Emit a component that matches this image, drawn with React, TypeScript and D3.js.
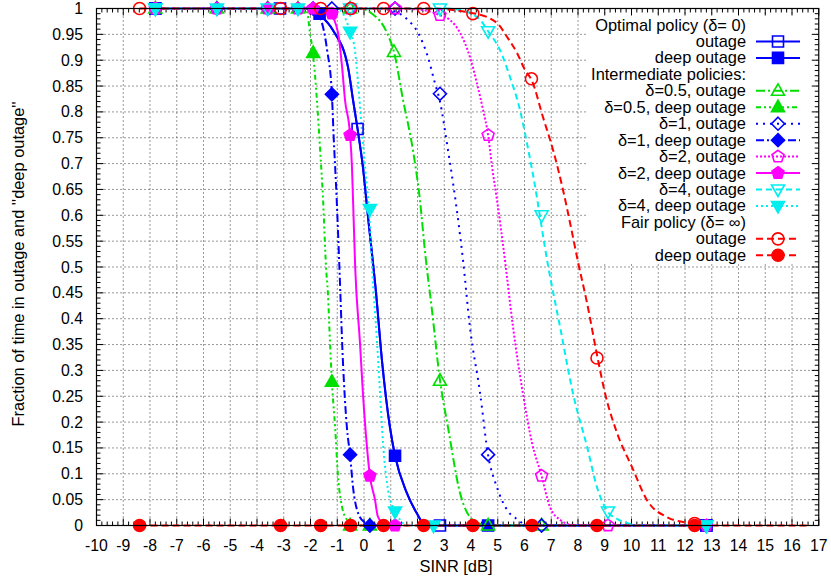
import React from "react";
import * as d3 from "d3";

// ---------- data ----------
const xTickLabels = ["-10","-9","-8","-7","-6","-5","-4","-3","-2","-1","0","1","2","3","4","5","6","7","8","9","10","11","12","13","14","15","16","17"];
const yTickLabels = ["0","0.05","0.1","0.15","0.2","0.25","0.3","0.35","0.4","0.45","0.5","0.55","0.6","0.65","0.7","0.75","0.8","0.85","0.9","0.95","1"];

// curve samples [SINR dB, fraction]
const optLine = [[-7.8,1],[-2.2,1],[-1.9,0.997],[-1.64,0.987],[-1.16,0.958],[-0.6,0.887],[-0.41,0.823],[-0.24,0.767],[-0.04,0.693],[0.15,0.597],[0.45,0.45],[0.67,0.32],[0.97,0.19],[1.16,0.135],[1.6,0.063],[1.97,0.024],[2.2,0.006],[2.84,0],[12.8,0]];
const d05OutLine = [[-5.5,1],[-0.2,1],[0.3,0.99],[0.86,0.953],[1.12,0.916],[1.46,0.823],[1.83,0.726],[2.09,0.63],[2.28,0.53],[2.54,0.417],[2.84,0.281],[3.14,0.19],[3.59,0.063],[4.07,0.011],[4.64,0],[6.64,0]];
const d05DeepLine = [[-7.8,1],[-2.4,1],[-2.13,0.993],[-2.02,0.953],[-1.91,0.914],[-1.76,0.823],[-1.64,0.726],[-1.53,0.63],[-1.42,0.5],[-1.35,0.45],[-1.27,0.353],[-1.2,0.278],[-1.08,0.19],[-0.97,0.094],[-0.82,0.036],[-0.64,0.011],[-0.52,0],[0.22,0]];
const d1OutLine = [[-3.6,1],[0.5,1],[0.97,0.997],[1.64,0.978],[2.02,0.953],[2.39,0.906],[2.65,0.856],[2.84,0.82],[3.14,0.726],[3.33,0.662],[3.7,0.514],[3.96,0.384],[4.34,0.256],[4.64,0.136],[4.97,0.074],[5.35,0.03],[5.76,0.011],[6.1,0],[6.64,0]];
const d1DeepLine = [[-5.5,1],[-2.2,1],[-1.71,0.987],[-1.38,0.92],[-1.2,0.834],[-1.14,0.759],[-1.02,0.63],[-0.92,0.5],[-0.79,0.32],[-0.64,0.19],[-0.52,0.136],[-0.41,0.074],[-0.22,0.024],[0.04,0.005],[0.22,0]];
const d2OutLine = [[-5.5,1],[1.16,1],[2.2,0.997],[2.84,0.987],[3.21,0.978],[3.59,0.953],[3.96,0.906],[4.22,0.856],[4.45,0.804],[4.64,0.755],[4.79,0.693],[4.97,0.63],[5.14,0.566],[5.3,0.5],[5.57,0.384],[5.94,0.256],[6.28,0.16],[6.64,0.096],[6.95,0.036],[7.33,0.011],[7.81,0.001],[9.12,0],[12.8,0]];
const d2DeepLine = [[-7.8,1],[-1.6,1],[-1.27,0.991],[-0.97,0.953],[-0.82,0.887],[-0.71,0.823],[-0.52,0.755],[-0.45,0.693],[-0.41,0.63],[-0.33,0.5],[-0.15,0.353],[-0.04,0.256],[0.11,0.152],[0.22,0.096],[0.41,0.05],[0.52,0.017],[0.79,0.001],[1.16,0]];
const d4OutLine = [[-7.8,1],[3.0,1],[3.59,0.997],[4.34,0.978],[4.64,0.956],[5.08,0.92],[5.46,0.867],[5.83,0.804],[6.09,0.74],[6.33,0.675],[6.89,0.5],[7.33,0.384],[7.81,0.256],[8.34,0.152],[8.71,0.074],[9.12,0.026],[9.46,0.013],[9.83,0.005],[10.3,0],[12.8,0]];
const d4DeepLine = [[-7.8,1],[-1.1,1],[-0.9,0.997],[-0.52,0.955],[-0.34,0.92],[-0.22,0.856],[-0.07,0.759],[0.04,0.693],[0.2,0.6],[0.3,0.5],[0.49,0.353],[0.6,0.256],[0.71,0.16],[0.9,0.069],[1.16,0.027],[1.35,0.011],[1.61,0],[12.8,0]];
const fairOutLine = [[-8.39,1],[2.24,1],[4.07,0.991],[4.97,0.972],[5.35,0.945],[5.72,0.914],[6.02,0.881],[6.28,0.86],[6.69,0.79],[7.07,0.726],[7.44,0.649],[7.78,0.566],[8.0,0.51],[8.34,0.43],[8.71,0.33],[9.01,0.256],[9.46,0.179],[10.02,0.113],[10.58,0.049],[11.33,0.016],[12.07,0.005],[12.45,0]];
const fairDeepLine = [[-8.39,0],[16.6,0]];

// marker points
const optOutPts = [[-7.8,1],[-3.14,1],[-0.24,0.767],[2.84,0],[12.8,0]];
const optDeepPts = [[-7.8,1],[-1.66,0.99],[1.16,0.135],[4.64,0],[12.8,0]];
const d05OutPts = [[-5.5,1],[-2.47,1],[-0.52,1],[1.12,0.916],[2.84,0.28],[4.64,0],[6.64,0]];
const d05DeepPts = [[-7.8,1],[-3.6,1],[-1.9,0.914],[-1.2,0.278],[-0.52,0],[0.22,0]];
const d1OutPts = [[-3.6,1],[-1.2,1],[1.16,1],[2.84,0.835],[4.64,0.137],[6.64,0]];
const d1DeepPts = [[-5.5,1],[-1.9,1],[-1.2,0.834],[-0.52,0.137],[0.22,0]];
const d2OutPts = [[-5.5,1],[-2.47,1],[-0.52,1],[1.16,1],[2.84,0.987],[4.64,0.755],[6.64,0.096],[9.12,0],[12.8,0]];
const d2DeepPts = [[-7.8,1],[-3.6,1],[-1.9,1],[-1.2,0.99],[-0.52,0.755],[0.22,0.096],[1.16,0]];
const d4OutPts = [[-7.8,1],[-3.6,1],[-0.52,1],[2.84,1],[4.64,0.956],[6.64,0.6],[9.12,0.027],[12.8,0]];
const d4DeepPts = [[-7.8,1],[-5.5,1],[-2.47,1],[-0.52,0.955],[0.22,0.612],[1.16,0.027],[2.6,0],[12.8,0]];
const fairOutPts = [[-8.39,1],[-3.12,1],[-1.62,1],[-0.49,1],[0.73,1],[2.23,1],[4.07,0.99],[6.26,0.864],[8.71,0.324],[12.36,0.004]];
const fairDeepPts = [[-8.39,0],[-3.12,0],[-1.62,0],[-0.5,0],[0.73,0],[2.23,0],[4.07,0],[6.28,0],[8.71,0],[12.36,0]];

type Series = { label: string; line: number[][]; pts: number[][]; color: string; dash: string; marker: string; filled: boolean };

const series: Series[] = [
  { label: "outage", line: optLine, pts: optOutPts, color: "#0000ff", dash: "", marker: "square", filled: false },
  { label: "deep outage", line: optLine, pts: optDeepPts, color: "#0000ff", dash: "", marker: "square", filled: true },
  { label: "δ=0.5, outage", line: d05OutLine, pts: d05OutPts, color: "#00e000", dash: "9,3,2,3", marker: "triUp", filled: false },
  { label: "δ=0.5, deep outage", line: d05DeepLine, pts: d05DeepPts, color: "#00e000", dash: "5,3,2,3,2,3", marker: "triUp", filled: true },
  { label: "δ=1, outage", line: d1OutLine, pts: d1OutPts, color: "#0000ff", dash: "2,5", marker: "diamond", filled: false },
  { label: "δ=1, deep outage", line: d1DeepLine, pts: d1DeepPts, color: "#0000ff", dash: "8,3,2,3", marker: "diamond", filled: true },
  { label: "δ=2, outage", line: d2OutLine, pts: d2OutPts, color: "#ff00ff", dash: "2,2", marker: "pentagon", filled: false },
  { label: "δ=2, deep outage", line: d2DeepLine, pts: d2DeepPts, color: "#ff00ff", dash: "", marker: "pentagon", filled: true },
  { label: "δ=4, outage", line: d4OutLine, pts: d4OutPts, color: "#00eeee", dash: "6,4", marker: "triDown", filled: false },
  { label: "δ=4, deep outage", line: d4DeepLine, pts: d4DeepPts, color: "#00eeee", dash: "2,3", marker: "triDown", filled: true },
  { label: "outage", line: fairOutLine, pts: fairOutPts, color: "#ff0000", dash: "7,4", marker: "circle", filled: false },
  { label: "deep outage", line: fairDeepLine, pts: fairDeepPts, color: "#ff0000", dash: "7,4", marker: "circle", filled: true },
];

// legend rows: strings are heading text only, numbers index into series
const legendRows: (string | number)[] = ["Optimal policy (δ= 0)", 0, 1, "Intermediate policies:", 2, 3, 4, 5, 6, 7, 8, 9, "Fair policy (δ= ∞)", 10, 11];

// ---------- layout ----------
const W = 831, H = 581;
const x = d3.scaleLinear().domain([-10, 17]).range([96.5, 818.75]);
const y = d3.scaleLinear().domain([0, 1]).range([525.5, 8.5]);
const FONT = "'Liberation Sans', Arial, Helvetica, sans-serif";
const FS_TICK = 15.8;
const FS_TEXT = 16.4;

function markerPath(kind: string): string {
  switch (kind) {
    case "square": return "M-5.5,-5.5h11v11h-11z";
    case "circle": return "M-6,0a6,6 0 1,0 12,0a6,6 0 1,0 -12,0z";
    case "triUp": return "M0,-7L6.5,4.5L-6.5,4.5z";
    case "triDown": return "M0,7L6.5,-4.5L-6.5,-4.5z";
    case "diamond": return "M0,-6.5L6.5,0L0,6.5L-6.5,0z";
    case "pentagon": {
      const p = d3.range(5).map(k => {
        const a = -Math.PI / 2 + (k * 2 * Math.PI) / 5;
        return [6.3 * Math.cos(a), 6.3 * Math.sin(a)];
      });
      return "M" + p.map(q => q[0].toFixed(2) + "," + q[1].toFixed(2)).join("L") + "z";
    }
  }
  return "";
}

function Marker({ s, cx, cy }: { s: Series; cx: number; cy: number }) {
  return (
    <path
      d={markerPath(s.marker)}
      transform={`translate(${cx},${cy})`}
      fill={s.filled ? s.color : "none"}
      stroke={s.color}
      strokeWidth={1.6}
    />
  );
}

export default function App() {
  const lineGen = d3.line<number[]>().x(d => x(d[0])).y(d => y(d[1])).curve(d3.curveMonotoneX);
  const xTickVals = xTickLabels.map(Number);
  const yTickVals = yTickLabels.map(Number);
  const xMinor: number[] = [];
  xTickVals.slice(0, -1).forEach(v => { for (let k = 1; k < 5; k++) xMinor.push(v + k * 0.2); });
  const yMinor: number[] = [];
  yTickVals.slice(0, -1).forEach(v => { for (let k = 1; k < 5; k++) yMinor.push(v + k * 0.01); });
  const [x0, x1] = x.range();
  const [y0, y1] = y.range();

  const legRight = 746, sampleX0 = 756, sampleX1 = 800, sampleMid = 778;
  const rowY = (i: number) => 25 + i * 16.45;

  return (
    <svg width={W} height={H} style={{ position: "absolute", left: 0, top: 0, background: "#fff" }} fontFamily={FONT}>
      <rect x={0} y={0} width={W} height={H} fill="#fff" />
      {/* grid */}
      <g stroke="#000" strokeWidth={1} strokeDasharray="1,3" opacity={0.8}>
        {xTickVals.slice(1, -1).map(v => <line key={"gx" + v} x1={x(v)} x2={x(v)} y1={y0} y2={y1} />)}
        {yTickVals.slice(1, -1).map(v => <line key={"gy" + v} x1={x0} x2={x1} y1={y(v)} y2={y(v)} />)}
      </g>
      {/* opaque key background */}
      <rect x={588} y={14} width={227} height={249} fill="#fff" />
      {/* ticks */}
      <g stroke="#000" strokeWidth={1}>
        {xTickVals.map(v => <g key={"tx" + v}>
          <line x1={x(v)} x2={x(v)} y1={y0} y2={y0 - 7} />
          <line x1={x(v)} x2={x(v)} y1={y1} y2={y1 + 7} />
        </g>)}
        {xMinor.map((v, i) => <g key={"mx" + i}>
          <line x1={x(v)} x2={x(v)} y1={y0} y2={y0 - 4} />
          <line x1={x(v)} x2={x(v)} y1={y1} y2={y1 + 4} />
        </g>)}
        {yTickVals.map(v => <g key={"ty" + v}>
          <line x1={x0} x2={x0 + 7} y1={y(v)} y2={y(v)} />
          <line x1={x1} x2={x1 - 7} y1={y(v)} y2={y(v)} />
        </g>)}
        {yMinor.map((v, i) => <g key={"my" + i}>
          <line x1={x0} x2={x0 + 4} y1={y(v)} y2={y(v)} />
          <line x1={x1} x2={x1 - 4} y1={y(v)} y2={y(v)} />
        </g>)}
      </g>
      {/* series lines */}
      {series.map((s, i) => (
        <path key={"l" + i} d={lineGen(s.line) || ""} fill="none" stroke={s.color} strokeWidth={2} strokeDasharray={s.dash || undefined} />
      ))}
      {/* markers */}
      {series.map((s, i) => (
        <g key={"m" + i}>
          {s.pts.map((p, j) => <Marker key={j} s={s} cx={x(p[0])} cy={y(p[1])} />)}
        </g>
      ))}
      {/* border */}
      <rect x={x0} y={y1} width={x1 - x0} height={y0 - y1} fill="none" stroke="#000" strokeWidth={1.2} />
      {/* tick labels */}
      <g fontSize={FS_TICK} fill="#000">
        {xTickLabels.map((t, i) => (
          <text key={"xl" + i} x={x(xTickVals[i])} y={551} textAnchor="middle">{t}</text>
        ))}
        {yTickLabels.map((t, i) => (
          <text key={"yl" + i} x={83} y={y(yTickVals[i]) + 5.5} textAnchor="end">{t}</text>
        ))}
      </g>
      <text x={456} y={572} textAnchor="middle" fontSize={FS_TEXT}>SINR [dB]</text>
      <text transform="translate(24,264) rotate(-90)" textAnchor="middle" fontSize={FS_TEXT}>Fraction of time in outage and ''deep outage''</text>
      {/* legend */}
      <g fontSize={FS_TEXT}>
        {legendRows.map((r, i) => {
          const cy = rowY(i);
          if (typeof r === "string") {
            return <text key={"lg" + i} x={legRight} y={cy + 5.5} textAnchor="end">{r}</text>;
          }
          const s = series[r];
          return (
            <g key={"lg" + i}>
              <text x={legRight} y={cy + 5.5} textAnchor="end">{s.label}</text>
              <line x1={sampleX0} x2={sampleX1} y1={cy} y2={cy} stroke={s.color} strokeWidth={2} strokeDasharray={s.dash || undefined} />
              <Marker s={s} cx={sampleMid} cy={cy} />
            </g>
          );
        })}
      </g>
    </svg>
  );
}
